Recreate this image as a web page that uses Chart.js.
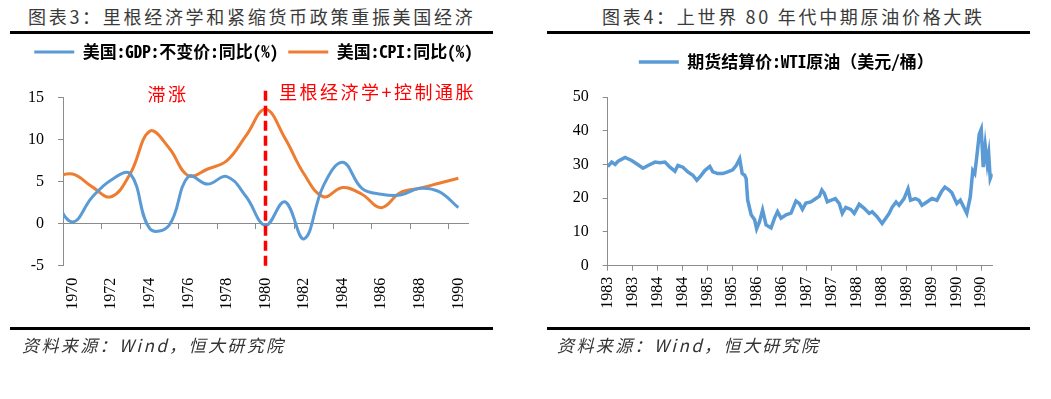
<!DOCTYPE html>
<html lang="zh-CN">
<head>
<meta charset="utf-8">
<title>里根经济学与原油价格</title>
<script src="https://cdn.jsdelivr.net/npm/chart.js@4.4.1/dist/chart.umd.min.js"></script>
<style>
  html, body { margin: 0; padding: 0; background: #fff; }
  body { width: 1051px; height: 399px; position: relative; overflow: hidden; font-family: "Noto Sans CJK SC", sans-serif; }
  .title { position: absolute; top: 3px; font-size: 18px; line-height: 26px; color: #3a3a3a; letter-spacing: 2.7px; white-space: nowrap; }
  .rule { position: absolute; height: 3px; background: #000; }
  .src { position: absolute; top: 333px; font-size: 17px; line-height: 24px; font-style: italic; color: #333; letter-spacing: 2.4px; white-space: nowrap; }
  canvas { position: absolute; top: 30px; }
</style>
</head>
<body>

<div class="title" style="left:28px">图表3：里根经济学和紧缩货币政策重振美国经济</div>
<div class="rule" style="left:10px; width:483px; top:31px"></div>
<canvas id="chartLeft" width="500" height="300" style="left:0px"></canvas>
<div class="rule" style="left:10px; width:483px; top:327px"></div>
<div class="src" style="left:22px">资料来源：Wind，恒大研究院</div>

<div class="title" style="left:602px">图表4：上世界 80 年代中期原油价格大跌</div>
<div class="rule" style="left:547px; width:483px; top:31px"></div>
<canvas id="chartRight" width="500" height="300" style="left:530px"></canvas>
<div class="rule" style="left:547px; width:483px; top:327px"></div>
<div class="src" style="left:557px">资料来源：Wind，恒大研究院</div>

<script>
// 图表3 : 美国 GDP / CPI 同比 (年度, 1969 只用于左边界)
var YEARS = [1969, 1970, 1971, 1972, 1973, 1974, 1975, 1976, 1977, 1978, 1979,
             1980, 1981, 1982, 1983, 1984, 1985, 1986, 1987, 1988, 1989, 1990];
var GDP_YOY = [3.1, 0.2, 3.1, 5.2, 5.9, -0.6, -0.2, 5.6, 4.7, 5.6, 3.2,
               -0.2, 2.6, -1.8, 4.5, 7.3, 4.2, 3.5, 3.4, 4.2, 3.8, 1.9];
var CPI_YOY = [5.5, 5.9, 4.4, 3.2, 6.0, 11.0, 9.0, 5.7, 6.5, 7.5, 10.5,
               13.6, 10.2, 5.9, 3.2, 4.3, 3.5, 1.9, 3.7, 4.2, 4.8, 5.4];
var LEFT_LABEL_YEARS = [1970, 1972, 1974, 1976, 1978, 1980, 1982, 1984, 1986, 1988, 1990];
var LEFT_TICK_MARKS = [1969.5, 1971.5, 1973.5, 1975.5, 1977.5, 1979.5, 1981.5, 1983.5, 1985.5, 1987.5, 1989.5];
var REAGAN_YEAR = 1980;

// 图表4 : WTI 期货结算价 (美元/桶), 横轴为小数年份
var OIL_DATES = [
  1983.25, 1983.33, 1983.40, 1983.46, 1983.60, 1983.73, 1983.83, 1983.96,
  1984.06, 1984.20, 1984.30, 1984.40, 1984.50, 1984.60, 1984.66, 1984.76, 1984.86, 1984.96,
  1985.04, 1985.10, 1985.20, 1985.30, 1985.36, 1985.46, 1985.56, 1985.66, 1985.76, 1985.83, 1985.90, 1985.95,
  1986.00, 1986.03, 1986.06, 1986.13, 1986.20, 1986.24, 1986.30, 1986.36, 1986.43, 1986.53, 1986.60, 1986.66, 1986.73, 1986.83, 1986.93,
  1987.03, 1987.10, 1987.16, 1987.23, 1987.33, 1987.43, 1987.50, 1987.55, 1987.60, 1987.66, 1987.73, 1987.82, 1987.90, 1987.96,
  1988.03, 1988.13, 1988.20, 1988.30, 1988.40, 1988.50, 1988.56, 1988.66, 1988.76, 1988.83, 1988.90, 1988.96,
  1989.04, 1989.10, 1989.20, 1989.28, 1989.33, 1989.43, 1989.50, 1989.56, 1989.66, 1989.76, 1989.86, 1989.95,
  1990.02, 1990.10, 1990.16, 1990.26, 1990.33, 1990.40, 1990.46, 1990.53, 1990.58, 1990.62, 1990.66, 1990.71, 1990.75, 1990.79, 1990.83, 1990.87, 1990.90, 1990.93, 1990.97
];
var OIL_PRICES = [
  29.4, 30.7, 30.0, 31.0, 32.1, 31.2, 30.2, 28.9,
  29.7, 30.7, 30.5, 30.7, 29.2, 28.0, 29.7, 29.2, 27.8, 26.8,
  25.3, 26.3, 28.2, 29.4, 27.8, 27.3, 27.3, 27.8, 28.4, 29.7, 31.7, 27.3,
  26.8, 25.8, 19.5, 15.1, 13.6, 10.9, 13.1, 16.5, 12.1, 11.2, 14.1, 16.0, 14.1, 15.1, 15.6,
  19.2, 18.4, 16.7, 18.6, 18.9, 19.9, 20.6, 22.4, 21.4, 18.9, 19.4, 19.9, 18.4, 15.5,
  17.3, 16.7, 15.5, 18.2, 17.0, 15.5, 16.0, 14.5, 12.5, 14.0, 15.5, 17.3,
  18.9, 17.9, 19.9, 22.8, 19.4, 19.9, 19.4, 17.9, 18.9, 19.9, 19.4, 21.9,
  23.3, 22.5, 21.6, 18.4, 19.4, 17.3, 15.5, 20.4, 28.2, 27.3, 32.2, 39.0, 40.5, 29.2, 35.6, 30.2, 33.1, 25.8, 27.3
];
var OIL_TICKS = [1983.25, 1983.75, 1984.25, 1984.75, 1985.25, 1985.75, 1986.25, 1986.75,
                 1987.25, 1987.75, 1988.25, 1988.75, 1989.25, 1989.75, 1990.25, 1990.75];

var BLUE = "#5b9bd5";
var ORANGE = "#ed7d31";
var AXIS_GREY = "#8c8c8c";
var SERIF = "'Liberation Serif', 'Times New Roman', serif";
var CJK = "'Noto Sans CJK SC', sans-serif";

function toPoints(xs, ys) {
  return xs.map(function (x, i) {
    return { x: x, y: ys[i] };
  });
}

function fixedTicks(values) {
  return function (scale) {
    scale.ticks = values.map(function (v) {
      return { value: v };
    });
  };
}

/** 红色标注文字 */
var noteLabels = {
  id: "noteLabels",
  afterDatasetsDraw: function (chart, args, opts) {
    if (!opts.items) return;
    var ctx = chart.ctx;
    var xs = chart.scales.x;
    var ys = chart.scales.y;
    ctx.save();
    ctx.font = "18px " + CJK;
    ctx.letterSpacing = "2.5px";
    ctx.fillStyle = "#ff0000";
    ctx.textBaseline = "middle";
    opts.items.forEach(function (it) {
      ctx.textAlign = it.align;
      ctx.fillText(it.text, xs.getPixelForValue(it.x), ys.getPixelForValue(it.y));
    });
    ctx.restore();
  },
};

/** 图例整体左右平移 (原图图例不在画布正中) */
var legendShift = {
  id: "legendShift",
  afterLayout: function (chart, args, opts) {
    if (chart.legend && opts.dx) {
      chart.legend.left += opts.dx;
      chart.legend.right += opts.dx;
    }
  },
};

function legendOptions(size, padding) {
  return {
    display: true,
    position: "top",
    labels: {
      usePointStyle: true,
      pointStyle: "line",
      pointStyleWidth: 40,
      padding: padding,
      color: "#000",
      font: { family: "'Noto Sans Mono CJK SC', " + CJK, size: size, weight: "bold" },
      filter: function (item) {
        return item.text !== "";
      },
    },
  };
}

// 图例和绘图区之间的空白
function spacer(bottom) {
  return { display: true, text: " ", position: "top", weight: 500, padding: { top: 0, bottom: bottom }, font: { size: 10, lineHeight: 1 } };
}

function yAxis(min, max, step, width) {
  return {
    min: min,
    max: max,
    border: { color: AXIS_GREY, width: 1 },
    grid: { drawOnChartArea: false, tickLength: 5, color: AXIS_GREY },
    ticks: { stepSize: step, padding: 14, color: "#000", font: { family: SERIF, size: 16 } },
    afterFit: function (s) {
      s.width = width;
    },
  };
}

window.addEventListener("DOMContentLoaded", function () {
  Chart.defaults.animation = false;
  Chart.defaults.font.family = CJK;

  new Chart(document.getElementById("chartLeft"), {
    type: "line",
    data: {
      datasets: [
        {
          label: "",
          data: [{ x: REAGAN_YEAR, y: -5 }, { x: REAGAN_YEAR, y: 16.2 }],
          borderColor: "#ff0000",
          borderWidth: 3.5,
          borderDash: [10, 5],
          pointRadius: 0,
          clip: false,
          order: -1,
        },
        {
          label: "美国:GDP:不变价:同比(%)",
          data: toPoints(YEARS, GDP_YOY),
          borderColor: BLUE,
          backgroundColor: BLUE,
          borderWidth: 3,
          pointRadius: 0,
          tension: 0.4,
        },
        {
          label: "美国:CPI:同比(%)",
          data: toPoints(YEARS, CPI_YOY),
          borderColor: ORANGE,
          backgroundColor: ORANGE,
          borderWidth: 3,
          pointRadius: 0,
          tension: 0.4,
        },
      ],
    },
    options: {
      responsive: false,
      devicePixelRatio: 1,
      layout: { padding: { top: 3.5, right: 32, bottom: 0, left: 0 } },
      plugins: {
        legend: legendOptions(17, 10),
        legendShift: { dx: 19.5 },
        subtitle: spacer(17),
        tooltip: { enabled: false },
        noteLabels: {
          items: [
            { text: "滞涨", x: 1974.94, y: 15.4, align: "center" },
            { text: "里根经济学+控制通胀", x: 1980.7, y: 15.6, align: "left" },
          ],
        },
      },
      scales: {
        x: {
          type: "linear",
          min: 1969.5,
          max: 1990.5,
          border: { display: false },
          grid: { display: false, drawTicks: false },
          afterBuildTicks: fixedTicks(LEFT_LABEL_YEARS),
          ticks: {
            autoSkip: false,
            minRotation: 90,
            maxRotation: 90,
            padding: 12,
            color: "#000",
            font: { family: SERIF, size: 16 },
            callback: function (v) {
              return String(v);
            },
          },
          afterFit: function (s) {
            s.height = 64.3;
          },
        },
        // 0 轴 + 刻度线
        xZero: {
          axis: "x",
          type: "linear",
          position: { y: 0 },
          min: 1969.5,
          max: 1990.5,
          border: { color: AXIS_GREY, width: 1 },
          grid: { drawOnChartArea: false, tickLength: 5, color: AXIS_GREY },
          afterBuildTicks: fixedTicks(LEFT_TICK_MARKS),
          ticks: {
            callback: function () {
              return "";
            },
          },
        },
        y: yAxis(-5, 15, 5, 63),
      },
    },
    plugins: [noteLabels, legendShift],
  });

  new Chart(document.getElementById("chartRight"), {
    type: "line",
    data: {
      datasets: [
        {
          label: "期货结算价:WTI原油（美元/桶）",
          data: toPoints(OIL_DATES, OIL_PRICES),
          borderColor: BLUE,
          backgroundColor: BLUE,
          borderWidth: 3.5,
          pointRadius: 0,
          tension: 0,
        },
      ],
    },
    options: {
      responsive: false,
      devicePixelRatio: 1,
      layout: { padding: { top: 10, right: 37.3, bottom: 0, left: 0 } },
      plugins: {
        legend: legendOptions(17, 13.5),
        legendShift: { dx: 25 },
        subtitle: spacer(6.5),
        tooltip: { enabled: false },
      },
      scales: {
        x: {
          type: "linear",
          min: 1983.25,
          max: 1990.98,
          border: { color: AXIS_GREY, width: 1 },
          grid: { drawOnChartArea: false, tickLength: 5, color: AXIS_GREY },
          afterBuildTicks: fixedTicks(OIL_TICKS),
          ticks: {
            autoSkip: false,
            minRotation: 90,
            maxRotation: 90,
            padding: 6,
            color: "#000",
            font: { family: SERIF, size: 16 },
            callback: function (v) {
              return String(Math.floor(v));
            },
          },
          afterFit: function (s) {
            s.height = 64.3;
          },
        },
        y: yAxis(0, 50, 10, 77.7),
      },
    },
    plugins: [legendShift],
  });
});
</script>
</body>
</html>
